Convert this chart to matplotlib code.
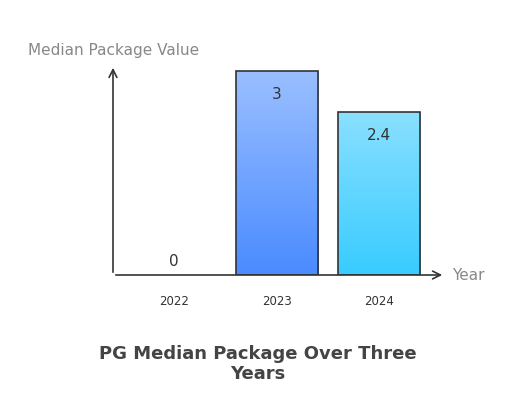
import matplotlib
matplotlib.use("Agg")
import matplotlib.pyplot as plt
import numpy as np
from matplotlib.colors import LinearSegmentedColormap

years = ["2022", "2023", "2024"]
values = [0, 3, 2.4]
labels = ["0", "3", "2.4"]
grads = [("#9ABFFF", "#4A8BFF"), ("#9ABFFF", "#4A8BFF"), ("#8AE0FF", "#38CCFF")]

W, H = 512, 404
fig = plt.figure(figsize=(W/100, H/100), dpi=100)
x0, x1, y0, y1 = 113, 445, 275, 65
ax = fig.add_axes([x0/W, 1-y0/H, (x1-x0)/W, (y0-y1)/H])
ax.set_xlim(-0.595, 2.64)
ax.set_ylim(0, 3.09)
for s in ax.spines.values():
    s.set_visible(False)
ax.set_xticks([]); ax.set_yticks([])

xs = np.arange(len(years))
bw = 0.8
grad = np.linspace(0, 1, 256).reshape(-1, 1)
for x, v, lab, (top, bot) in zip(xs, values, labels, grads):
    if v > 0:
        cmap = LinearSegmentedColormap.from_list("g", [bot, top])
        im = ax.imshow(grad, extent=[x-bw/2, x+bw/2, 0, v], origin="lower",
                       cmap=cmap, aspect="auto", zorder=2)
        r = plt.Rectangle((x-bw/2, 0), bw, v, fill=False, ec="#333333", lw=1.2, zorder=3)
        ax.add_patch(r)
        im.set_clip_path(r)
        ax.annotate(lab, (x, v), xytext=(0, -17), textcoords="offset points",
                    ha="center", va="center", fontsize=11, color="#333333", zorder=4)
    else:
        ax.annotate(lab, (x, 0), xytext=(0, 10), textcoords="offset points",
                    ha="center", va="center", fontsize=11, color="#333333")
    ax.annotate(years[x], (x, 0), xytext=(0, -19), textcoords="offset points",
                ha="center", va="center", fontsize=8.5, color="#333333", annotation_clip=False)

ax.annotate("", xy=(1, 0), xytext=(0, 0), xycoords="axes fraction",
            arrowprops=dict(arrowstyle="->", color="#333333", lw=1.2, mutation_scale=14))
ax.annotate("", xy=(0, 1), xytext=(0, 0), xycoords="axes fraction",
            arrowprops=dict(arrowstyle="->", color="#333333", lw=1.2, mutation_scale=14))

fig.text(28/W, 1-50/H, "Median Package Value", fontsize=11, color="#888888", va="center")
fig.text(452/W, 1-276/H, "Year", fontsize=11, color="#888888", va="center")
fig.text(258/W, 1-364/H, "PG Median Package Over Three\nYears", fontsize=13, fontweight="bold",
         color="#444444", ha="center", va="center", linespacing=1.2)
fig.savefig("out.png", dpi=100)
